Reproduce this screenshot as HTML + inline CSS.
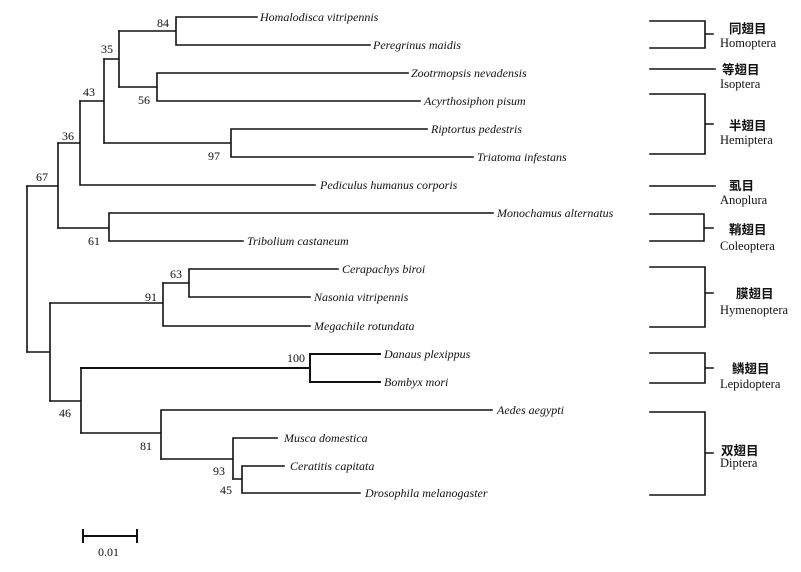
<!DOCTYPE html>
<html><head><meta charset="utf-8"><style>
html,body{margin:0;padding:0;background:#fff;}
svg{display:block;}
.l{font-family:"Liberation Serif","Noto Serif CJK SC",serif;font-style:italic;font-size:12px;fill:#111;}
.n{font-family:"Liberation Serif",serif;font-size:12px;fill:#111;}
.c{font-family:"Liberation Serif","Noto Sans CJK SC",sans-serif;font-size:12.5px;fill:#111;font-weight:bold;}
.e{font-family:"Liberation Serif",serif;font-size:12.5px;fill:#111;}
</style></head><body>
<svg width="801" height="572" viewBox="0 0 801 572" xmlns="http://www.w3.org/2000/svg">
<g stroke="#111" stroke-width="1.6" fill="none" stroke-linecap="square">
<!-- root -->
<path d="M27,186V352"/>
<path d="M27,186H58M58,143V228"/>
<path d="M58,143H80M80,101V185M80,185H315"/>
<path d="M80,101H104M104,59V143"/>
<path d="M104,59H119M119,31V87"/>
<path d="M119,31H176M176,17V45M176,17H257M176,45H370"/>
<path d="M119,87H157M157,73V101M157,73H408M157,101H420"/>
<path d="M104,143H231M231,129V157M231,129H427M231,157H473"/>
<path d="M58,228H109M109,213V241M109,213H493M109,241H243"/>
<path d="M27,352H50M50,303V401"/>
<path d="M50,303H163M163,283V326M163,326H310"/>
<path d="M163,283H189M189,269V297M189,269H338M189,297H310"/>
<path d="M50,401H81M81,368V433"/>
<path d="M81,368H310M310,354V382M310,354H380M310,382H380" stroke-width="2"/>
<path d="M81,433H161M161,410V459M161,410H492"/>
<path d="M161,459H233M233,438V479M233,438H277"/>
<path d="M233,479H242M242,466V493M242,466H284M242,493H360"/>
<!-- scale -->
<path d="M83,536H137M83,530V542M137,530V542" stroke-width="2"/>
<!-- brackets -->
<path d="M650,21H705V48H650M705,34H713"/>
<path d="M650,69H715"/>
<path d="M650,94H705V154H650M705,124H713"/>
<path d="M650,186H715"/>
<path d="M650,214H704V241H650M704,228H713"/>
<path d="M650,267H705V327H650M705,293H713"/>
<path d="M650,353H705V383H650M705,368H713"/>
<path d="M650,412H705V495H650M705,453H713"/>
</g>
<g class="l">
<text x="260" y="21">Homalodisca vitripennis</text>
<text x="373" y="49">Peregrinus maidis</text>
<text x="411" y="77">Zootrmopsis nevadensis</text>
<text x="424" y="105">Acyrthosiphon pisum</text>
<text x="431" y="133">Riptortus pedestris</text>
<text x="477" y="161">Triatoma infestans</text>
<text x="320" y="189">Pediculus humanus corporis</text>
<text x="497" y="217">Monochamus alternatus</text>
<text x="247" y="245">Tribolium castaneum</text>
<text x="342" y="273">Cerapachys biroi</text>
<text x="314" y="301">Nasonia vitripennis</text>
<text x="314" y="330">Megachile rotundata</text>
<text x="384" y="358">Danaus plexippus</text>
<text x="384" y="386">Bombyx mori</text>
<text x="497" y="414">Aedes aegypti</text>
<text x="284" y="442">Musca domestica</text>
<text x="290" y="470">Ceratitis capitata</text>
<text x="365" y="497">Drosophila melanogaster</text>
</g>
<g class="n">
<text x="157" y="27">84</text>
<text x="101" y="53">35</text>
<text x="138" y="104">56</text>
<text x="83" y="96">43</text>
<text x="62" y="140">36</text>
<text x="36" y="181">67</text>
<text x="208" y="160">97</text>
<text x="88" y="245">61</text>
<text x="170" y="278">63</text>
<text x="145" y="301">91</text>
<text x="287" y="362">100</text>
<text x="59" y="417">46</text>
<text x="140" y="450">81</text>
<text x="213" y="475">93</text>
<text x="220" y="494">45</text>
<text x="98" y="556">0.01</text>
</g>
<g class="c">
<text x="729" y="33">同翅目</text>
<text x="722" y="74">等翅目</text>
<text x="729" y="130">半翅目</text>
<text x="729" y="190">虱目</text>
<text x="729" y="234">鞘翅目</text>
<text x="736" y="298">膜翅目</text>
<text x="732" y="373">鳞翅目</text>
<text x="721" y="455">双翅目</text>
</g>
<g class="e">
<text x="720" y="47">Homoptera</text>
<text x="720" y="88">Isoptera</text>
<text x="720" y="144">Hemiptera</text>
<text x="720" y="204">Anoplura</text>
<text x="720" y="250">Coleoptera</text>
<text x="720" y="314">Hymenoptera</text>
<text x="720" y="388">Lepidoptera</text>
<text x="720" y="467">Diptera</text>
</g>
</svg>
</body></html>
